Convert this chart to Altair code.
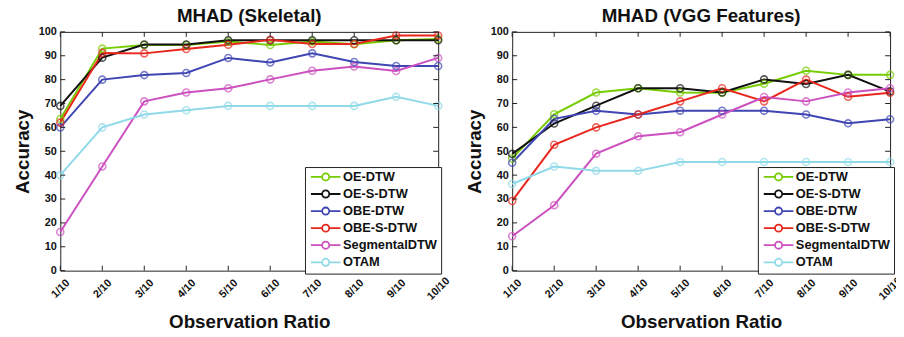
import altair as alt
import pandas as pd

ratios = ["1/10", "2/10", "3/10", "4/10", "5/10", "6/10", "7/10", "8/10", "9/10", "10/10"]
methods = ["OE-DTW", "OE-S-DTW", "OBE-DTW", "OBE-S-DTW", "SegmentalDTW", "OTAM"]
colors = ["#76cc00", "#111111", "#3f45b3", "#e8261c", "#cc50bf", "#90d9e8"]
yticks = [0, 10, 20, 30, 40, 50, 60, 70, 80, 90, 100]

# MHAD (Skeletal)
skel_oe_dtw = [63.5, 93.0, 94.5, 94.5, 96.0, 94.5, 96.0, 94.8, 96.5, 97.0]
skel_oe_s_dtw = [69.0, 89.2, 94.7, 94.7, 96.5, 96.5, 96.5, 96.5, 96.5, 96.5]
skel_obe_dtw = [60.0, 80.0, 81.9, 82.8, 89.1, 87.2, 91.0, 87.4, 85.7, 85.7]
skel_obe_s_dtw = [62.0, 91.2, 91.0, 92.8, 94.6, 96.7, 94.9, 94.9, 98.5, 98.5]
skel_segmental = [16.2, 43.6, 70.9, 74.6, 76.4, 80.1, 83.7, 85.5, 83.6, 89.1]
skel_otam = [40.0, 60.0, 65.4, 67.2, 69.0, 69.0, 69.0, 69.0, 72.8, 69.0]

# MHAD (VGG Features)
vgg_oe_dtw = [47.0, 65.5, 74.6, 76.4, 74.6, 74.5, 78.3, 83.7, 82.0, 82.0]
vgg_oe_s_dtw = [48.9, 61.6, 69.1, 76.4, 76.4, 74.6, 80.1, 78.2, 82.0, 75.0]
vgg_obe_dtw = [45.2, 63.6, 67.0, 65.4, 67.0, 67.0, 67.0, 65.4, 61.7, 63.4]
vgg_obe_s_dtw = [29.2, 52.7, 60.0, 65.4, 70.9, 76.4, 70.9, 80.0, 72.8, 74.5]
vgg_segmental = [14.4, 27.4, 49.0, 56.3, 58.0, 65.4, 72.7, 70.9, 74.6, 76.4]
vgg_otam = [36.3, 43.6, 41.8, 41.8, 45.5, 45.5, 45.5, 45.5, 45.5, 45.5]

skeletal = [skel_oe_dtw, skel_oe_s_dtw, skel_obe_dtw, skel_obe_s_dtw, skel_segmental, skel_otam]
vgg = [vgg_oe_dtw, vgg_oe_s_dtw, vgg_obe_dtw, vgg_obe_s_dtw, vgg_segmental, vgg_otam]

W, H = 383, 242
FONT = "Liberation Sans"


def to_df(series):
    rows = []
    for m, vals in zip(methods, series):
        for i, (r, v) in enumerate(zip(ratios, vals)):
            rows.append({"method": m, "ratio": r, "i": i, "acc": v})
    return pd.DataFrame(rows)


# unit = 4px (symbolSize 64): line 30px wide, circle radius ~3.6px
legend_path = ("M-3.75,0L-0.9,0M0.9,0L3.75,0"
               "M0.9,0A0.9,0.9,0,1,1,-0.9,0A0.9,0.9,0,1,1,0.9,0")


def panel(series, title, legend_x):
    df = to_df(series)
    xscale = alt.Scale(type="point", domain=ratios, padding=0)
    yscale = alt.Scale(domain=[0, 100], nice=False, zero=True)
    cscale = alt.Scale(domain=methods, range=colors)
    x = alt.X("ratio:N", sort=ratios, scale=xscale,
              axis=alt.Axis(title="Observation Ratio", labelAngle=315, labelAlign="center",
                            labelBaseline="middle", labelPadding=18, titlePadding=11))
    y = alt.Y("acc:Q", scale=yscale,
              axis=alt.Axis(title="Accuracy", values=yticks, titlePadding=6, labelPadding=4,
                            labelOverlap=False))
    base = alt.Chart(df)
    lines = base.mark_line(strokeWidth=2).encode(
        x=x, y=y,
        color=alt.Color("method:N", scale=cscale, sort=methods,
                        legend=alt.Legend(title=None, orient="none", legendX=legend_x, legendY=137,
                                          symbolType=legend_path, symbolSize=64, symbolOffset=11,
                                          symbolStrokeWidth=1.8, symbolFillColor="white",
                                          labelFontSize=13, labelFontWeight="bold", labelFont=FONT,
                                          labelColor="#111111", labelOffset=11, rowPadding=2.3,
                                          padding=3.5, strokeColor="#222222", fillColor="white",
                                          cornerRadius=0)),
        order=alt.Order("i:Q"),
    )
    points = base.mark_point(filled=False, size=50, strokeWidth=1.6).encode(
        x=x, y=y,
        color=alt.Color("method:N", scale=cscale, legend=None),
    )
    xt = pd.DataFrame({"ratio": ratios})
    yt = pd.DataFrame({"acc": yticks})
    tick_style = dict(color="#222222", strokeWidth=1)
    bottom = alt.Chart(xt).mark_rule(**tick_style).encode(x=x, y=alt.value(H), y2=alt.value(H - 5))
    top = alt.Chart(xt).mark_rule(**tick_style).encode(x=x, y=alt.value(0), y2=alt.value(5))
    left = alt.Chart(yt).mark_rule(**tick_style).encode(y=y, x=alt.value(0), x2=alt.value(5))
    right = alt.Chart(yt).mark_rule(**tick_style).encode(y=y, x=alt.value(W - 5), x2=alt.value(W))
    return alt.layer(lines, points, bottom, top, left, right).properties(
        width=W, height=H,
        title=alt.TitleParams(title, fontSize=19, fontWeight="bold", font=FONT,
                              color="#111111", offset=0, anchor="middle"),
    )


left_panel = panel(skeletal, "MHAD (Skeletal)", 248)
right_panel = panel(vgg, "MHAD (VGG Features)", 249)

chart = alt.hconcat(left_panel, right_panel, spacing=75, bounds="flush").resolve_scale(
    color="independent").resolve_legend(color="independent").properties(
    padding={"left": 5, "top": -4, "right": -8, "bottom": 0},
).configure(
    font=FONT,
).configure_view(
    stroke="#222222", strokeWidth=1,
).configure_axis(
    domain=False, ticks=False, grid=False,
    labelFont=FONT, labelFontSize=11, labelFontWeight="bold", labelColor="#111111",
    titleFont=FONT, titleFontSize=19, titleFontWeight="bold", titleColor="#111111",
)

chart.save("out.html", embed_options={"renderer": "svg", "actions": False})
